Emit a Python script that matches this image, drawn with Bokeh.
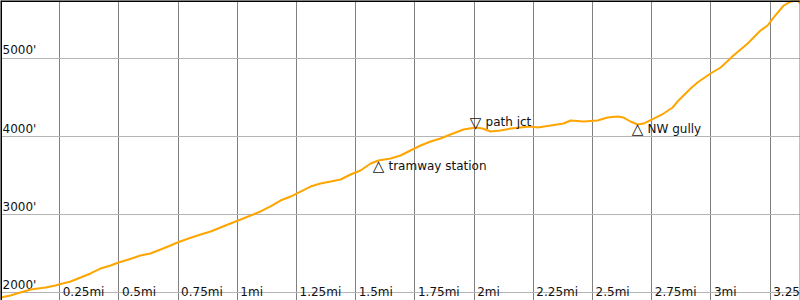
from bokeh.plotting import figure
from bokeh.models import Range1d, Span, ColumnDataSource, FixedTicker
from bokeh.core.properties import value
from bokeh.embed import file_html
from bokeh.resources import INLINE

# elevation profile (miles, feet)
miles = [0.000, 0.042, 0.084, 0.127, 0.190, 0.232, 0.262, 0.296, 0.338, 0.380,
         0.422, 0.465, 0.498, 0.541, 0.591, 0.633, 0.676, 0.718, 0.747, 0.794,
         0.845, 0.887, 0.929, 0.971, 1.014, 1.056, 1.098, 1.140, 1.182, 1.225,
         1.267, 1.309, 1.351, 1.394, 1.436, 1.478, 1.520, 1.563, 1.596, 1.647,
         1.689, 1.731, 1.774, 1.816, 1.858, 1.900, 1.955, 2.006, 2.035, 2.069,
         2.111, 2.154, 2.196, 2.238, 2.268, 2.323, 2.378, 2.407, 2.462, 2.521,
         2.563, 2.606, 2.631, 2.660, 2.690, 2.715, 2.758, 2.800, 2.838, 2.863,
         2.914, 2.943, 2.998, 3.041, 3.095, 3.155, 3.209, 3.239, 3.264, 3.307,
         3.336, 3.366, 3.378]
elev = [1943, 1968, 2006, 2045, 2070, 2096, 2122, 2147, 2198, 2250,
        2313, 2352, 2390, 2429, 2480, 2505, 2556, 2608, 2646, 2697,
        2748, 2787, 2838, 2889, 2940, 2991, 3043, 3107, 3183, 3234,
        3298, 3362, 3401, 3426, 3452, 3516, 3567, 3657, 3695, 3721,
        3759, 3823, 3887, 3938, 3976, 4028, 4092, 4117, 4104, 4066,
        4079, 4104, 4117, 4130, 4117, 4143, 4168, 4207, 4194, 4207,
        4245, 4258, 4245, 4194, 4156, 4168, 4232, 4296, 4373, 4463,
        4616, 4693, 4808, 4885, 5038, 5192, 5358, 5422, 5524, 5678,
        5729, 5742, 5703]

# waypoints
wp_names = ["tramway station", "path jct", "NW gully"]
wp_miles = [1.596, 2.006, 2.690]
wp_elev = [3695, 4117, 4156]
wp_dir = ["up", "down", "up"]

# ticks
x_ticks = [0.25, 0.5, 0.75, 1.0, 1.25, 1.5, 1.75, 2.0, 2.25, 2.5, 2.75, 3.0, 3.25]
x_tick_labels = ["0.25mi", "0.5mi", "0.75mi", "1mi", "1.25mi", "1.5mi", "1.75mi",
                 "2mi", "2.25mi", "2.5mi", "2.75mi", "3mi", "3.25mi"]
y_ticks = [2000, 3000, 4000, 5000]
y_tick_labels = ["2000'", "3000'", "4000'", "5000'"]

X0, X1 = 0.0, 3.378
Y0, Y1 = 1904, 5742

p = figure(width=800, height=300, output_backend="svg", toolbar_location=None,
           x_range=Range1d(X0, X1), y_range=Range1d(Y0, Y1), min_border=0)
p.outline_line_color = None
p.background_fill_color = "white"
p.border_fill_color = "white"
p.xaxis.visible = False
p.yaxis.visible = False
p.xgrid.ticker = FixedTicker(ticks=x_ticks)
p.ygrid.ticker = FixedTicker(ticks=y_ticks)
p.xgrid.grid_line_color = "#808080"
p.xgrid.grid_line_width = 1
p.ygrid.grid_line_color = "#b4b4b4"
p.ygrid.grid_line_width = 1

font = value("DejaVu Sans")

# tick labels drawn inside the plot
xs = ColumnDataSource(dict(x=x_ticks, y=[Y0] * len(x_ticks), t=x_tick_labels))
p.text(x="x", y="y", text="t", source=xs, text_font=font, text_font_size="12px",
       text_color="#111111", text_baseline="alphabetic", text_align="left",
       x_offset=3, y_offset=-9)
ys = ColumnDataSource(dict(x=[X0] * len(y_ticks), y=y_ticks, t=y_tick_labels))
p.text(x="x", y="y", text="t", source=ys, text_font=font, text_font_size="12px",
       text_color="#111111", text_baseline="alphabetic", text_align="left",
       x_offset=2, y_offset=-8)

p.line(miles, elev, line_color="#ffa500", line_width=2)

# waypoint markers and labels
tri = ["\u25b3" if d == "up" else "\u25bd" for d in wp_dir]
tri_off = [5 if d == "up" else -5 for d in wp_dir]
lab_off = [5 if d == "up" else -6 for d in wp_dir]
ws = ColumnDataSource(dict(x=wp_miles, y=wp_elev, tri=tri, t=wp_names,
                           to=tri_off, lo=lab_off))
p.text(x="x", y="y", text="tri", source=ws, text_font=font, text_font_size="15px",
       text_color="#111111", text_baseline="middle", text_align="center",
       y_offset="to")
p.text(x="x", y="y", text="t", source=ws, text_font=font, text_font_size="12px",
       text_color="#111111", text_baseline="alphabetic", text_align="left",
       x_offset=10, y_offset="lo")

p.add_layout(Span(location=Y1, dimension="width", line_color="black", line_width=3))
p.add_layout(Span(location=X0, dimension="height", line_color="black", line_width=3))
p.add_layout(Span(location=X1, dimension="height", line_color="#808080", line_width=2))

open("out.html", "w").write(file_html(p, INLINE))
